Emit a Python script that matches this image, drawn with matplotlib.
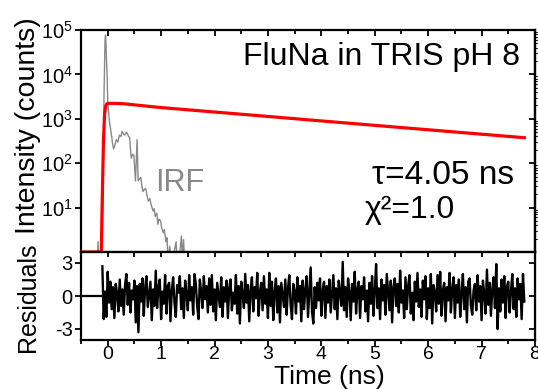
import matplotlib
matplotlib.use("Agg")
import matplotlib.pyplot as plt
import numpy as np
from matplotlib.ticker import MultipleLocator, LogLocator, NullFormatter

plt.rcParams['font.family'] = ['Liberation Sans', 'DejaVu Sans']
plt.rcParams['axes.unicode_minus'] = False
plt.rcParams['mathtext.fontset'] = 'custom'
plt.rcParams['mathtext.rm'] = 'Liberation Sans'
plt.rcParams['mathtext.it'] = 'Liberation Sans:italic'

# fit curve (ns, counts)
fit_t = [-0.5, -0.12, -0.1, -0.08, -0.06, -0.04, -0.02, 0.0, 0.1, 0.3,
         1.0, 2.0, 3.0, 4.0, 5.0, 6.0, 7.0, 7.8]
fit_y = [1.0, 1.0, 20, 300, 1200, 1900, 2150, 2220, 2230, 2180,
         1790, 1420, 1130, 895, 712, 566, 450, 375]

# instrument response (ns, counts)
irf_t = [-0.2, -0.18, -0.17, -0.15, -0.13, -0.11, -0.09, -0.07, -0.05, -0.04,
         -0.03, -0.01, 0.0, 0.03, 0.07, 0.09, 0.11, 0.13, 0.16, 0.19,
         0.22, 0.25, 0.27, 0.30, 0.32, 0.35, 0.37, 0.39, 0.41, 0.44,
         0.47, 0.49, 0.52, 0.55, 0.57, 0.60, 0.62, 0.64, 0.66, 0.69,
         0.71, 0.74, 0.76, 0.79, 0.81, 0.83, 0.85, 0.87, 0.89, 0.92,
         0.94, 0.96, 0.99, 1.01, 1.04, 1.06, 1.09, 1.11, 1.13, 1.16,
         1.19, 1.22, 1.25, 1.28, 1.30, 1.33, 1.36, 1.38, 1.40, 1.42,
         1.44, 1.46]
irf_y = [0.5, 1.7, 0.5, 0.6, 1.2, 2.2, 10, 3000, 60000, 77000,
         40000, 8000, 2500, 900, 440, 280, 210, 240, 340, 300,
         430, 400, 520, 450, 430, 500, 460, 400, 380, 130,
         160, 150, 40, 340, 40, 45, 48, 30, 23, 26,
         27, 18, 14, 16, 12, 10, 8.3, 9.5, 6.3, 7.5,
         4.2, 5.5, 5.0, 3.5, 2.7, 3.2, 1.7, 2.1, 0.6, 1.35,
         0.7, 0.6, 1.1, 1.7, 0.6, 0.5, 1.3, 2.3, 0.6, 1.9,
         0.6, 0.5]

# weighted residuals, one value per 0.025 ns channel from -0.1 ns
res_t0 = -0.1
res_dt = 0.025
residuals = [
    2.7, -2.1, 0.4, -1.9, 2.2, -0.6, 1.3, -1.2, 0.8, -2.0, 1.1, 0.3, -1.4, 1.5, -0.9, 0.6, -1.7, 1.0, 2.0, -0.8,
    1.2, -1.5, 0.5, -0.3, 1.4, -2.4, 0.9, -3.3, 1.1, -0.5, 1.6, -1.8, 0.7, 1.8, -1.0, 0.2, 1.3, -2.2, 0.6, -0.9,
    2.3, -1.1, 0.8, 1.5, -2.1, 0.4, -0.7, 1.9, -1.6, 0.9, 1.2, -2.3, 0.5, 1.7, -0.6, -1.9, 1.0, 0.3, 1.8, -1.2,
    0.7, -2.0, 1.4, 0.2, -1.3, 1.9, -0.4, 0.8, -1.7, 2.0, 1.1, -0.9, -2.1, 1.5, 0.4, -1.1, 1.8, -0.3, 0.9, -1.5,
    1.6, -0.8, 1.9, -1.4, 0.6, -2.2, 1.2, 0.1, -1.0, 1.7, -1.9, 0.8, -0.5, 1.4, -2.0, 0.7, 1.5, -1.3, 0.3, -0.7,
    1.9, -1.6, 0.9, -2.5, 1.3, 0.2, -1.1, 2.0, -0.6, 1.0, -2.3, 0.5, 1.7, -1.4, 0.8, -0.2, 2.1, -1.8, 0.4, 1.2,
    -1.3, 1.8, -0.7, 0.6, -2.0, 2.1, -0.9, 1.3, -2.2, 0.4, 1.6, -1.5, 0.9, -2.4, 1.2, 0.1, -1.0, 1.5, -1.7, 0.7,
    1.9, -0.8, -2.1, 1.1, 0.4, -1.6, 1.7, -0.5, 0.9, -2.3, 1.4, -1.2, 0.6, 1.8, -1.9, 0.3, 2.6, -1.4, -2.5, 0.8,
    -1.1, 1.2, -0.4, 1.6, -1.8, 0.5, 1.3, -2.0, 0.9, -0.6, 1.5, -1.5, 0.2, 1.9, -1.2, 0.7, -2.1, 1.4, 0.3, -0.9,
    3.1, -1.3, 0.8, -1.9, 1.6, 0.4, -2.2, 1.1, -0.5, 2.2, -1.6, 0.6, 1.3, -2.0, 0.9, -0.3, 1.7, -1.4, 0.5, -2.3,
    1.2, -0.7, 1.8, -1.8, 0.4, 2.9, -1.1, 0.7, -2.1, 1.5, -0.4, 1.0, -1.7, 2.0, 0.3, -1.3, 1.4, -2.4, 0.8, 1.6,
    -0.9, 1.1, -1.5, 2.3, -0.6, 0.5, -2.0, 1.7, -1.2, 0.9, 1.9, -1.6, 0.3, -2.2, 1.3, -0.5, 2.1, -1.0, 0.6, -1.9,
    1.4, -0.3, 1.8, -2.1, 0.7, -1.1, 2.0, -2.5, 1.0, 0.4, -1.4, 1.9, -0.7, 2.2, -1.8, 0.5, 1.2, -2.3, 0.8, -0.4,
    2.1, -1.5, 0.6, 1.7, -2.0, 1.0, -0.6, 1.5, -1.9, 0.3, 2.0, -1.2, 0.8, -2.4, 1.3, 1.6, -0.9, -1.7, 0.5, 1.1,
    -1.3, 1.9, -0.5, 0.9, -2.2, 1.4, 0.2, -1.6, 2.4, -0.8, 1.2, -1.8, 0.6, 1.7, -1.1, 2.9, -3.0, 0.7, -1.4, 1.5,
    -0.6, 1.8, -2.0, 0.9, 1.3, -1.5, 0.4, 2.0, -1.2, 0.7, -1.9, 1.6, -0.3, 1.1, -2.1, 2.0, -0.5,
]
res_t = res_t0 + res_dt * np.arange(len(residuals))

fig = plt.figure(figsize=(5.38, 3.89), dpi=100)
ax1 = fig.add_axes([81/538, 1-252/389, 454/538, 222/389])
ax2 = fig.add_axes([81/538, 1-340/389, 454/538, 88/389])

for ax in (ax1, ax2):
    for s in ax.spines.values():
        s.set_linewidth(1.6)
    ax.set_xlim(-0.5, 8)
    ax.xaxis.set_major_locator(MultipleLocator(1))
    ax.xaxis.set_minor_locator(MultipleLocator(0.5))
    ax.tick_params(which='both', labelsize=14.5, width=1.3, pad=2)
    ax.tick_params(which='major', length=4)
    ax.tick_params(which='minor', length=3)

# decay panel
ax1.plot(irf_t, irf_y, color='#888888', lw=1.0)
ax1.plot(fit_t, fit_y, color='#ff0000', lw=2.3)
ax1.set_yscale('log')
ax1.set_ylim(1, 1e5)
ax1.set_yticks([1e1, 1e2, 1e3, 1e4, 1e5])
ax1.yaxis.set_minor_locator(LogLocator(base=10, subs=np.arange(2, 10)))
ax1.yaxis.set_minor_formatter(NullFormatter())
ax1.tick_params(axis='y', which='minor', length=1.5, width=0.8)
ax1.tick_params(axis='x', which='both', direction='in', top=True, bottom=False,
                labelbottom=False)
ax1.tick_params(axis='y', which='major', direction='out', right=False)
ax1.tick_params(axis='y', which='minor', direction='out', right=False)
ax1r = ax1.secondary_yaxis('right')
ax1r.set_yticks([1e1, 1e2, 1e3, 1e4])
ax1r.tick_params(direction='in', length=4, width=1.3, labelright=False)
ax1r.spines['right'].set_linewidth(1.6)

ax1.text(0.967, 0.88, 'FluNa in TRIS pH 8', transform=ax1.transAxes,
         ha='right', va='center', fontsize=23)
ax1.text(0.88, 36, 'IRF', color='#888888', fontsize=22, ha='left', va='center')
ax1.text(0.955, 0.345, '\u03c4=4.05 ns', transform=ax1.transAxes,
         ha='right', va='center', fontsize=24)
ax1.text(0.625, 0.19, '\u03c7\u00b2=1.0', transform=ax1.transAxes,
         ha='left', va='center', fontsize=23)

# residual panel
ax2.plot([-0.5, res_t0], [0, 0], color='black', lw=1.6)
ax2.plot(res_t, residuals, color='black', lw=1.7)
ax2.set_ylim(-4, 4)
ax2.set_yticks([-3, 0, 3])
ax2.tick_params(axis='x', which='both', direction='out', top=False, pad=0,
                labelsize=14)
ax2.tick_params(axis='y', direction='out')
ax2t = ax2.secondary_xaxis('top')
ax2t.xaxis.set_major_locator(MultipleLocator(1))
ax2t.xaxis.set_minor_locator(MultipleLocator(0.5))
ax2t.tick_params(which='both', direction='in', length=3.5, width=1.3, labeltop=False)
ax2r = ax2.secondary_yaxis('right')
ax2r.set_yticks([-3, 0, 3])
ax2r.tick_params(direction='in', length=4, width=1.3, labelright=False)

fig.text(28/538, 1-126/389, 'Intensity (counts)', rotation=90,
         ha='center', va='center', fontsize=20.5)
fig.text(28/538, 1-297/389, 'Residuals', rotation=90,
         ha='center', va='center', fontsize=18)
fig.text(329/538, 1-384/389, 'Time (ns)', ha='center', va='baseline', fontsize=19)

fig.savefig('out.png', dpi=100)
